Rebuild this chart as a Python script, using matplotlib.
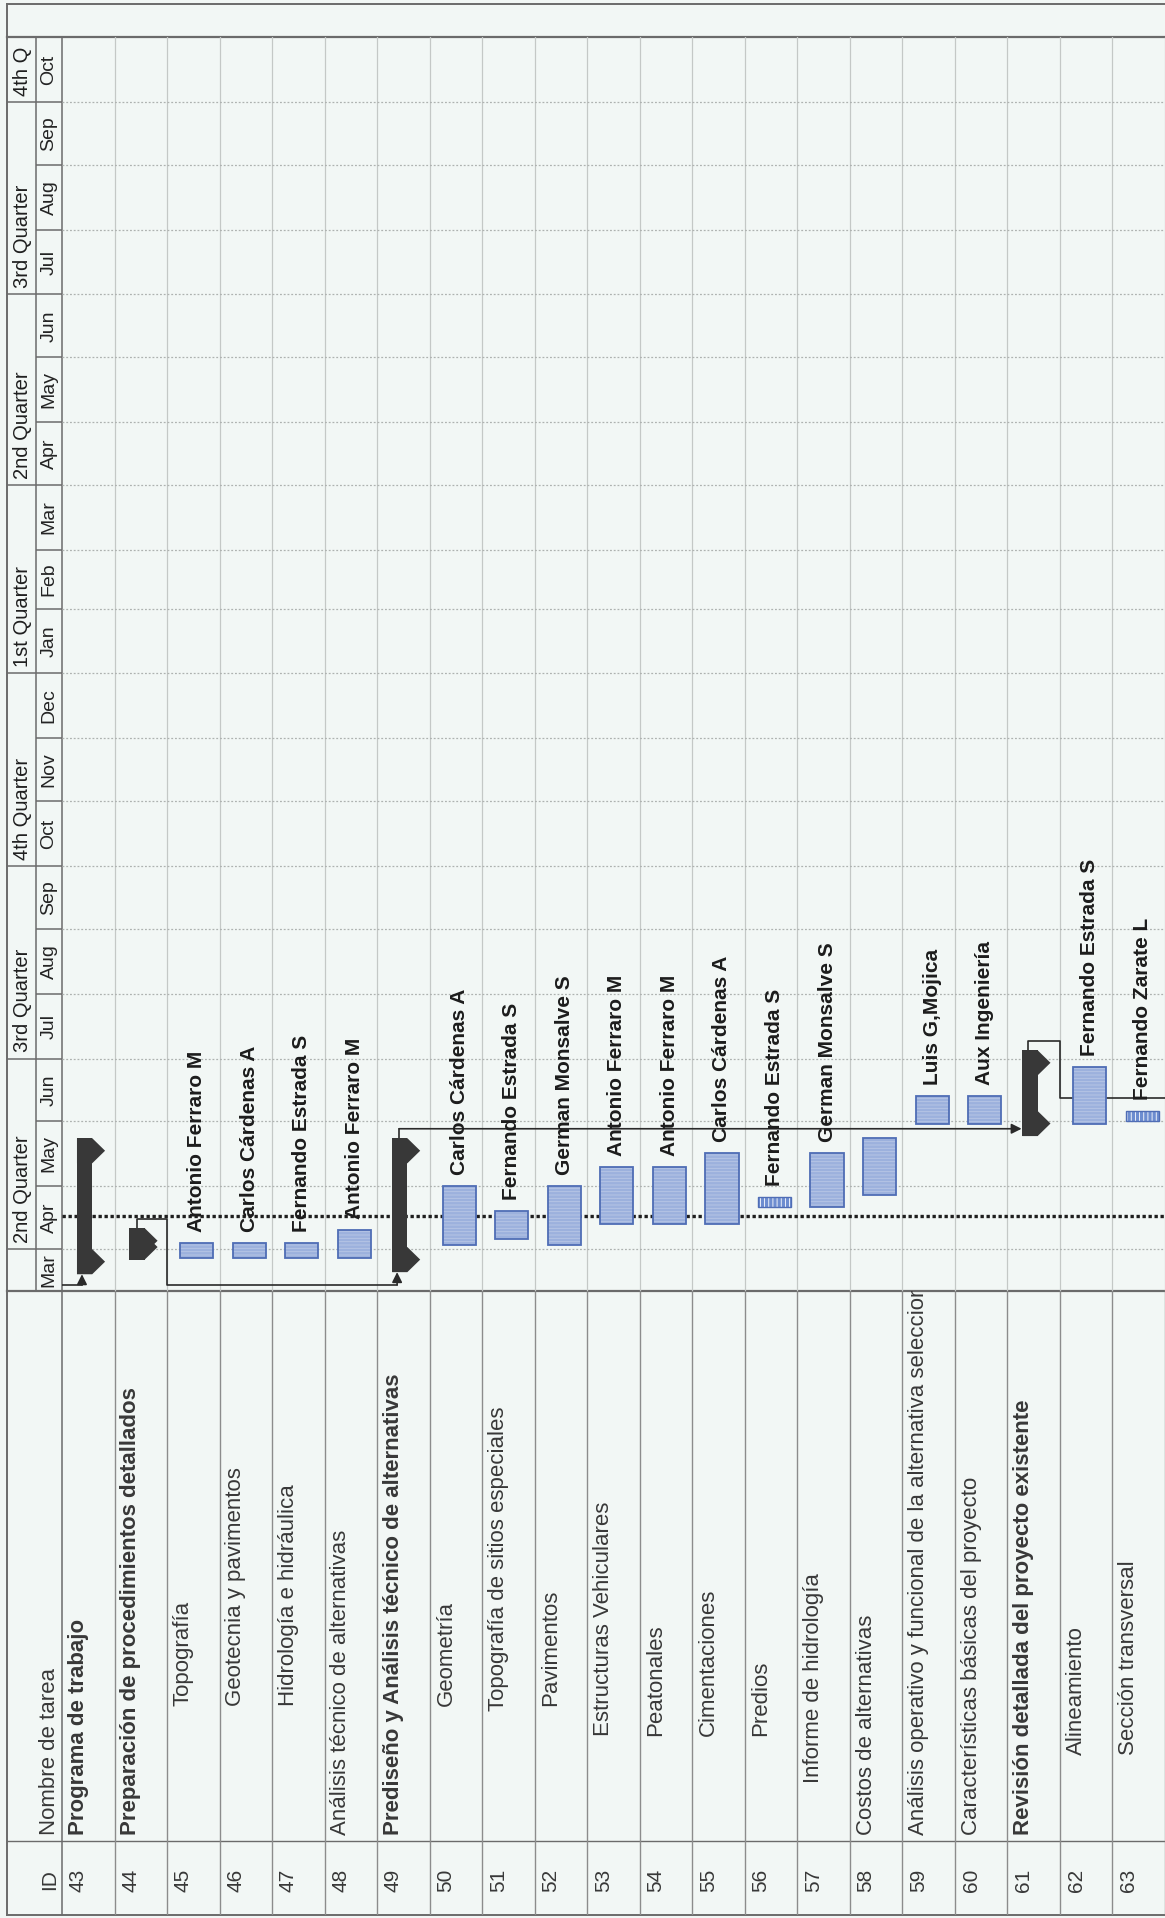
import numpy as np
import pandas as pd
import matplotlib
matplotlib.use("Agg")
import matplotlib.pyplot as plt
import matplotlib.dates as mdates
from matplotlib.patches import Rectangle, Polygon

plt.rcParams["font.family"] = ["Liberation Sans", "DejaVu Sans"]
plt.rcParams["hatch.linewidth"] = 0.6

# ---------------------------------------------------------------------------
# Schedule data

task_ids = list(range(43, 64))
task_names = [
    "Programa de trabajo",
    "Preparación de procedimientos detallados",
    "Topografía",
    "Geotecnia y pavimentos",
    "Hidrología e hidráulica",
    "Análisis técnico de alternativas",
    "Prediseño y Análisis técnico de alternativas",
    "Geometría",
    "Topografía de sitios especiales",
    "Pavimentos",
    "Estructuras Vehiculares",
    "Peatonales",
    "Cimentaciones",
    "Predios",
    "Informe de hidrología",
    "Costos de alternativas",
    "Análisis operativo y funcional de la alternativa seleccionada",
    "Características básicas del proyecto",
    "Revisión detallada del proyecto existente",
    "Alineamiento",
    "Sección transversal",
]
# indentation of each name inside the table (1.0 = one full indent step)
name_indent = [0, 0, 1, 1, 1, 0, 0, 1, 0.96, 1, 0.77, 0.77, 0.77, 0.77,
               0.4, 0, 0, 0, 0, 0.62, 0.62]
summary_ids = [43, 44, 49, 61]
bold_ids = [43, 44, 49, 61]
short_ids = [56, 63]

task_start = [
    "2010-03-20", "2010-03-27", "2010-03-28", "2010-03-28", "2010-03-28",
    "2010-03-28", "2010-03-21", "2010-04-03", "2010-04-06", "2010-04-03",
    "2010-04-13", "2010-04-13", "2010-04-13", "2010-04-21", "2010-04-21",
    "2010-04-27", "2010-05-31", "2010-05-31", "2010-05-25", "2010-05-31",
    "2010-06-01",
]
task_finish = [
    "2010-05-24", "2010-04-11", "2010-04-04", "2010-04-04", "2010-04-04",
    "2010-04-10", "2010-05-24", "2010-05-01", "2010-04-19", "2010-05-01",
    "2010-05-10", "2010-05-10", "2010-05-17", "2010-04-26", "2010-05-17",
    "2010-05-24", "2010-06-13", "2010-06-13", "2010-07-05", "2010-06-27",
    "2010-06-06",
]
resources = [
    "", "", "Antonio Ferraro M", "Carlos Cárdenas A", "Fernando Estrada S",
    "Antonio Ferraro M", "", "Carlos Cárdenas A", "Fernando Estrada S",
    "German Monsalve S", "Antonio Ferraro M", "Antonio Ferraro M",
    "Carlos Cárdenas A", "Fernando Estrada S", "German Monsalve S", "",
    "Luis G,Mojica", "Aux Ingeniería", "", "Fernando Estrada S",
    "Fernando Zarate L",
]

# predecessor links: (from id, to id); None = task outside the view
links = [(None, 43), (44, 49), (49, 61), (61, None)]
offview_successor_start = "2010-06-12"
offview_predecessor_date = "2010-03-15"

status_date = "2010-04-17"
view_start, view_end = "2010-03-12", "2011-11-01"

quarter_starts = ["2010-04-01", "2010-07-01", "2010-10-01", "2011-01-01",
                  "2011-04-01", "2011-07-01", "2011-10-01"]
quarter_labels = ["2nd Quarter", "3rd Quarter", "4th Quarter", "1st Quarter",
                  "2nd Quarter", "3rd Quarter", "4th Q"]
month_starts = pd.date_range("2010-03-01", "2011-10-01", freq="MS")
month_labels = [m.strftime("%b") for m in month_starts]

# ---------------------------------------------------------------------------
# Page layout in pixels

W, H = 1165, 1918
LEFT, TOP, BAND = 7, 4, 37
Q_X1, HDR_X1 = 36, 62
GANTT_Y1, ID_Y0, BOTTOM = 1291, 1841, 1915

BG = "#f2f7f5"
LINE = "#6b6b6b"
GRID = "#c4c8c6"
TXT = "#383838"
BAR_FACE, BAR_EDGE = "#9cb1dd", "#4f6db5"
SUMMARY = "#383838"

fig = plt.figure(figsize=(W / 100, H / 100), dpi=100, facecolor=BG)


def px_axes(x0, y0, x1, y1, **kw):
    a = fig.add_axes([x0 / W, 1 - y1 / H, (x1 - x0) / W, (y1 - y0) / H], **kw)
    a.set_facecolor("none")
    a.set_axis_off()
    return a


d = mdates.datestr2num
n_rows = len(task_ids)
y_lo, y_hi = d(view_start), d(view_end)

# frame and cell borders
frame = px_axes(0, 0, W, H)
frame.set_xlim(0, W)
frame.set_ylim(H, 0)
frame.plot([LEFT, W], [TOP, TOP], color=LINE, lw=1.4)
frame.plot([LEFT, W], [BAND, BAND], color=LINE, lw=1.6)
frame.plot([LEFT, LEFT], [TOP, BOTTOM], color=LINE, lw=1.4)
frame.plot([LEFT, W], [BOTTOM, BOTTOM], color=LINE, lw=1.4)
frame.plot([Q_X1, Q_X1], [BAND, GANTT_Y1], color=LINE, lw=1.1)
frame.plot([HDR_X1, HDR_X1], [BAND, BOTTOM], color=LINE, lw=1.1)
frame.plot([LEFT, W], [GANTT_Y1, GANTT_Y1], color=LINE, lw=1.6)
frame.plot([LEFT, W], [ID_Y0, ID_Y0], color=LINE, lw=1.0)

# ---------------------------------------------------------------------------
# Timescale (two tiers)

axq = px_axes(LEFT, BAND, Q_X1, GANTT_Y1)
axm = px_axes(Q_X1, BAND, HDR_X1, GANTT_Y1)
for a in (axq, axm):
    a.set_xlim(0, 1)
    a.set_ylim(y_lo, y_hi)

for qs, ql in zip(quarter_starts, quarter_labels):
    axq.axhline(d(qs), color=LINE, lw=1.1)
    axq.text(0.52, d(qs) + 3, ql, rotation=90, ha="center", va="bottom",
             fontsize=14.5, color="#1f1f1f", clip_on=True)

for i, (ms, ml) in enumerate(zip(month_starts, month_labels)):
    lo = max(mdates.date2num(ms), y_lo)
    hi = mdates.date2num(month_starts[i + 1]) if i + 1 < len(month_starts) \
        else y_hi
    hi = min(hi, y_hi)
    axm.axhline(mdates.date2num(ms), color=LINE, lw=1.1)
    axm.text(0.5, (lo + hi) / 2, ml, rotation=90, ha="center", va="center",
             fontsize=14, color="#242424", clip_on=True)

# ---------------------------------------------------------------------------
# Gantt area

ax = px_axes(HDR_X1, BAND, W, GANTT_Y1)
ax.set_xlim(0, n_rows)
ax.set_ylim(y_lo, y_hi)

for i in range(1, n_rows + 1):
    ax.axvline(i, color=GRID, lw=0.9, zorder=0)
for ms in month_starts:
    ax.axhline(mdates.date2num(ms), color="#aeb2b0", lw=0.9,
               ls=(0, (1.5, 1.5)), zorder=0)
ax.axhline(d(status_date), color="#1e1e1e", lw=2.4, ls=(0, (1, 0.8)),
           zorder=1)

CAP = 12  # days covered by a summary end cap
BX0, BW = 0.25, 0.63
SX0, SX1, SX2 = 0.285, 0.575, 0.82

for i, tid in enumerate(task_ids):
    s, f = d(task_start[i]), d(task_finish[i])
    if tid in summary_ids:
        ax.add_patch(Rectangle((i + SX0, s), SX1 - SX0, f - s,
                               color=SUMMARY, lw=0, zorder=3))
        for yb, yt in ((s, s + CAP), (f - CAP, f)):
            ax.add_patch(Polygon(
                [(i + SX0, yb), (i + SX1, yb), (i + SX2, (yb + yt) / 2),
                 (i + SX1, yt), (i + SX0, yt)],
                closed=True, color=SUMMARY, lw=0, zorder=3))
    elif tid in short_ids:
        ax.add_patch(Rectangle((i + BX0, s), BW, f - s, facecolor="#6d8dd0",
                               edgecolor="white", hatch="||||", lw=0,
                               zorder=3))
        ax.add_patch(Rectangle((i + BX0, s), BW, f - s, facecolor="none",
                               edgecolor=BAR_EDGE, lw=1.0, zorder=4))
    else:
        ax.add_patch(Rectangle((i + BX0, s), BW, f - s, facecolor=BAR_FACE,
                               edgecolor="#b9c7e6", hatch="-----", lw=0,
                               zorder=3))
        ax.add_patch(Rectangle((i + BX0, s), BW, f - s, facecolor="none",
                               edgecolor=BAR_EDGE, lw=1.3, zorder=4))
    if resources[i]:
        ax.annotate(resources[i], xy=(i + BX0 + BW / 2, f), xytext=(0, 8),
                    textcoords="offset points", rotation=90, ha="center",
                    va="bottom", fontsize=15, fontweight="bold",
                    color="#1c1c1c", zorder=5)

# links between tasks
LK = dict(color="#2a2a2a", lw=1.2, zorder=2)
ARW = dict(arrowstyle="-|>,head_length=0.6,head_width=0.3", color="#2a2a2a",
           lw=1.2, shrinkA=0, shrinkB=0)
LAG = 4.5


def row(tid):
    return task_ids.index(tid)


for src, dst in links:
    if src is None:
        j = row(dst)
        y0 = d(offview_predecessor_date)
        xa = j + 0.38
        ax.plot([0, xa], [y0, y0], **LK)
        ax.annotate("", xy=(xa, d(task_start[j])), xytext=(xa, y0),
                    arrowprops=ARW, zorder=4)
    elif dst is None:
        i = row(src)
        f = d(task_finish[i])
        ys = d(offview_successor_start)
        xs = i + 0.4
        ax.plot([xs, xs, i + 1, i + 1, n_rows],
                [f, f + LAG, f + LAG, ys, ys], **LK)
    elif dst - src < 8:
        i, j = row(src), row(dst)
        f = d(task_finish[i])
        ylane = y_lo + 3
        xs, xa = i + 0.42, j + 0.38
        ax.plot([xs, xs, i + 1, i + 1, xa], [f, f + LAG, f + LAG, ylane, ylane],
                **LK)
        ax.annotate("", xy=(xa, d(task_start[j])), xytext=(xa, ylane),
                    arrowprops=ARW, zorder=4)
    else:
        i, j = row(src), row(dst)
        f = d(task_finish[i])
        xs = i + 0.42
        ax.plot([xs, xs], [f, f + LAG], **LK)
        ax.annotate("", xy=(j + 0.27, f + LAG), xytext=(xs, f + LAG),
                    arrowprops=ARW, zorder=4)

# ---------------------------------------------------------------------------
# Task table

axt = px_axes(HDR_X1, GANTT_Y1, W, BOTTOM)
axt.set_xlim(0, n_rows)
axt.set_ylim(BOTTOM, GANTT_Y1)
for i in range(1, n_rows + 1):
    axt.axvline(i, color="#8c8c8c", lw=1.0)

NAME_Y0, INDENT = ID_Y0 - 6, 129
ID_YC = 1880
for i, tid in enumerate(task_ids):
    axt.text(i + 0.31, NAME_Y0 - INDENT * name_indent[i], task_names[i],
             rotation=90, ha="center", va="bottom", fontsize=16,
             fontweight="bold" if tid in bold_ids else "normal", color=TXT,
             clip_on=True)
    axt.text(i + 0.31, ID_YC, str(tid), rotation=90,
             ha="center", va="center", fontsize=15, color=TXT)

axh = px_axes(LEFT, GANTT_Y1, HDR_X1, BOTTOM)
axh.set_xlim(LEFT, HDR_X1)
axh.set_ylim(BOTTOM, GANTT_Y1)
axh.text(50, NAME_Y0, "Nombre de tarea", rotation=90, ha="center",
         va="bottom", fontsize=16, color=TXT)
axh.text(50, ID_YC, "ID", rotation=90, ha="center",
         va="center", fontsize=15, color=TXT)

fig.savefig("out.png", dpi=100, facecolor=BG)
